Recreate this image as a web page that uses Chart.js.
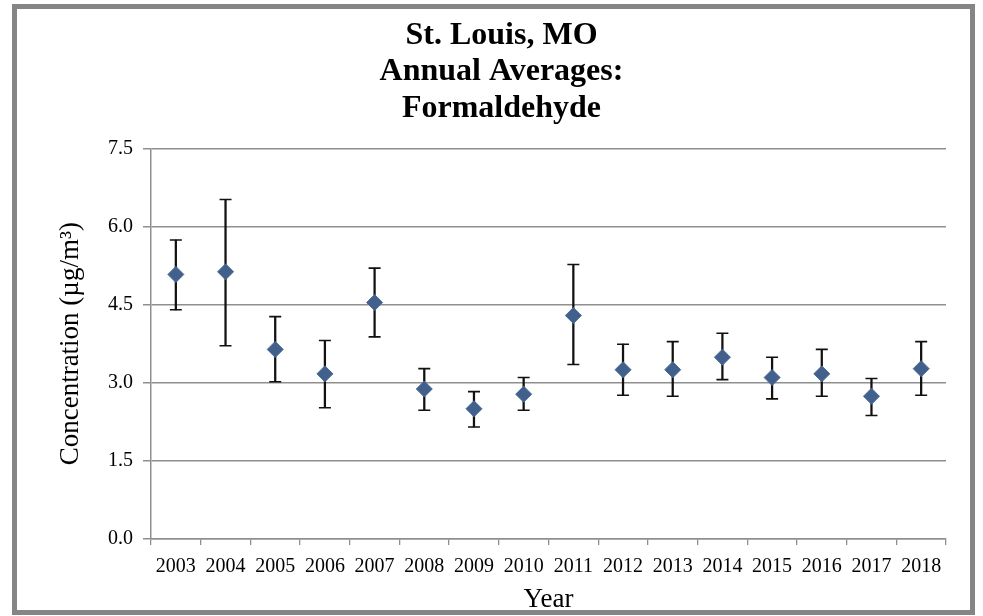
<!DOCTYPE html>
<html>
<head>
<meta charset="utf-8">
<script src="https://cdn.jsdelivr.net/npm/chart.js@4"></script>
<style>
  html, body { margin: 0; padding: 0; background: #fff; }
  #frame {
    position: absolute;
    left: 12px; top: 4px;
    width: 953px; height: 601px;
    border: 5px solid #858585;
    background: #fff;
  }
  #graphCanvas { display: block; }
</style>
</head>
<body>
<div id="frame"><canvas id="graphCanvas" width="953" height="601"></canvas></div>
<script>
// annual averages
const years = ['2003', '2004', '2005', '2006', '2007', '2008', '2009', '2010',
               '2011', '2012', '2013', '2014', '2015', '2016', '2017', '2018'];
const averages = [5.08, 5.13, 3.64, 3.17, 4.54, 2.88, 2.50, 2.78,
                  4.29, 3.25, 3.25, 3.49, 3.10, 3.17, 2.74, 3.27];
const upper = [5.74, 6.52, 4.27, 3.81, 5.20, 3.27, 2.83, 3.10,
               5.27, 3.74, 3.79, 3.95, 3.49, 3.64, 3.08, 3.79];
const lower = [4.40, 3.71, 3.02, 2.52, 3.88, 2.47, 2.15, 2.47,
               3.35, 2.76, 2.74, 3.06, 2.69, 2.74, 2.37, 2.76];
const yTicks = [0, 1.5, 3.0, 4.5, 6.0, 7.5];

const serif = "'Liberation Serif', 'Times New Roman', serif";
const gridGrey = '#8f8f8f';

function plotChart() {
  const ctx = document.getElementById('graphCanvas').getContext('2d');
  const stems = years.map((y, i) => [lower[i], upper[i]]);

  new Chart(ctx, {
    data: {
      labels: years,
      datasets: [
        {
          type: 'line',
          label: 'Annual average',
          data: averages,
          showLine: false,
          pointStyle: 'rectRot',
          pointRadius: 8,
          backgroundColor: '#41618c',
          borderColor: '#4a6a96',
          borderWidth: 1,
          order: 0
        },
        {
          type: 'line',
          label: 'upper',
          data: upper,
          showLine: false,
          pointStyle: 'line',
          pointRadius: 6,
          borderColor: '#111',
          borderWidth: 1.6,
          order: 1
        },
        {
          type: 'line',
          label: 'lower',
          data: lower,
          showLine: false,
          pointStyle: 'line',
          pointRadius: 6,
          borderColor: '#111',
          borderWidth: 1.6,
          order: 1
        },
        {
          type: 'bar',
          label: 'range',
          data: stems,
          backgroundColor: '#111',
          borderWidth: 0,
          barThickness: 1.6,
          order: 2
        }
      ]
    },
    options: {
      responsive: false,
      animation: false,
      layout: { padding: { left: 40, right: 24, top: 8, bottom: 0 } },
      plugins: {
        legend: { display: false },
        tooltip: { enabled: false },
        title: {
          display: true,
          text: ['St. Louis, MO', 'Annual Averages:', 'Formaldehyde'],
          color: '#000',
          font: { family: serif, size: 32, weight: 'bold', lineHeight: 1.15 },
          padding: { top: 0, bottom: 21 }
        }
      },
      scales: {
        x: {
          type: 'category',
          offset: true,
          grid: {
            offset: true,
            drawOnChartArea: false,
            drawTicks: true,
            tickLength: 6,
            color: gridGrey,
            lineWidth: 1.3
          },
          border: { color: gridGrey, width: 1.5 },
          ticks: {
            color: '#000',
            font: { family: serif, size: 20 },
            padding: 10,
            maxRotation: 0,
            autoSkip: false
          },
          title: {
            display: true,
            text: 'Year',
            color: '#000',
            font: { family: serif, size: 27, lineHeight: 0.78 },
            padding: { top: 0, bottom: 0 }
          }
        },
        y: {
          min: 0,
          max: 7.5,
          afterBuildTicks: (axis) => { axis.ticks = yTicks.map(v => ({ value: v })); },
          grid: {
            color: gridGrey,
            lineWidth: 1.5,
            tickLength: 8,
            drawTicks: true
          },
          border: { color: gridGrey, width: 1.5 },
          ticks: {
            color: '#000',
            font: { family: serif, size: 20 },
            padding: 10,
            callback: (v) => Number(v).toFixed(1)
          },
          title: {
            display: true,
            text: 'Concentration (µg/m³)',
            color: '#000',
            font: { family: serif, size: 27, lineHeight: 1.0 },
            padding: { top: 0, bottom: 14 }
          }
        }
      }
    }
  });
}

plotChart();
</script>
</body>
</html>
